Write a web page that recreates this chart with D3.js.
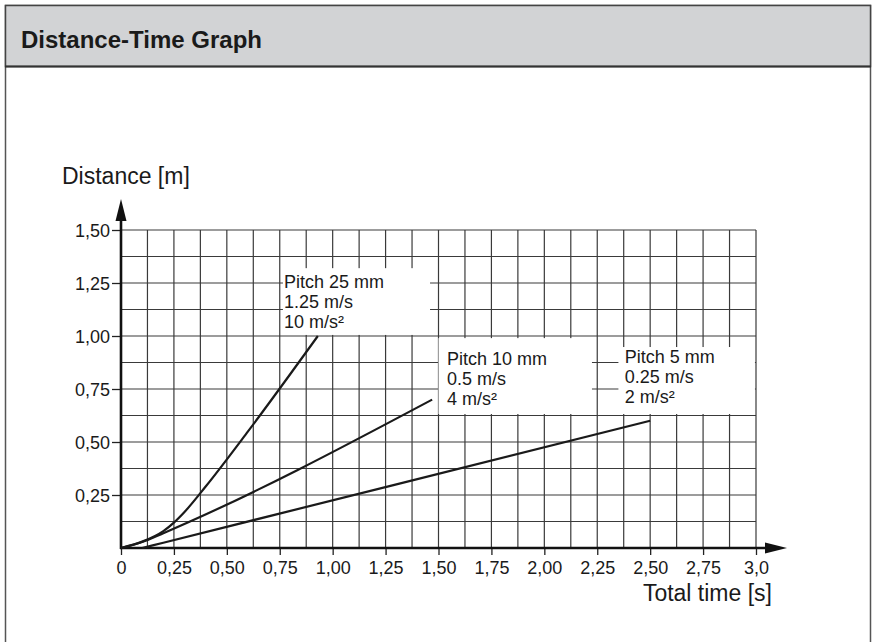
<!DOCTYPE html>
<html>
<head>
<meta charset="utf-8">
<script src="https://cdn.jsdelivr.net/npm/d3@7"></script>
<style>
  body { margin: 0; background: #fff; }
  svg text { font-family: "Liberation Sans", Arial, sans-serif; fill: #1a1a1a; }
</style>
</head>
<body>
<svg width="874" height="642"></svg>
<script>
var width = 874;
var height = 642;

// axis ticks
var timeTicks = [0, 0.25, 0.5, 0.75, 1.0, 1.25, 1.5, 1.75, 2.0, 2.25, 2.5, 2.75, 3.0];
var timeLabels = ["0", "0,25", "0,50", "0,75", "1,00", "1,25", "1,50", "1,75", "2,00", "2,25", "2,50", "2,75", "3,0"];
var distTicks = [0.25, 0.5, 0.75, 1.0, 1.25, 1.5];
var distLabels = ["0,25", "0,50", "0,75", "1,00", "1,25", "1,50"];

// series, [time s, distance m]
var pitch25 = [[0, 0], [0.1, 0.03], [0.2, 0.08], [0.25, 0.12], [0.3, 0.17], [0.4, 0.29], [0.6, 0.55], [0.93, 1.0]];
var pitch10 = [[0, 0], [0.1, 0.028], [0.2, 0.07], [1.47, 0.70]];
var pitch5 = [[0.1, 0], [0.2, 0.025], [2.5, 0.6]];

// labels
var label25 = ["Pitch 25 mm", "1.25 m/s", "10 m/s²"];
var label10 = ["Pitch 10 mm", "0.5 m/s", "4 m/s²"];
var label5 = ["Pitch 5 mm", "0.25 m/s", "2 m/s²"];

var svg = d3.select('svg');

// panel + header
svg.append("rect")
    .attr("x", 5.5).attr("y", 5.5)
    .attr("width", 865).attr("height", 700)
    .attr("fill", "#fff")
    .attr("stroke", "#555")
    .attr("stroke-width", 1.5);
svg.append("rect")
    .attr("x", 5.5).attr("y", 5.5)
    .attr("width", 865).attr("height", 61)
    .attr("fill", "#d2d3d5")
    .attr("stroke", "#444")
    .attr("stroke-width", 1.5);
svg.append("line")
    .attr("x1", 5).attr("x2", 871)
    .attr("y1", 66.5).attr("y2", 66.5)
    .attr("stroke", "#333")
    .attr("stroke-width", 2);
svg.append("text")
    .attr("x", 21)
    .attr("y", 48)
    .attr("font-size", "24px")
    .attr("font-weight", "bold")
    .text("Distance-Time Graph");

var x = d3.scaleLinear().domain([0, 3]).range([121, 756]);
var y = d3.scaleLinear().domain([0, 1.5]).range([548, 230]);

// grid every 0.125
var gridG = svg.append("g");
gridG.selectAll(".vg")
    .data(d3.range(0.125, 3.001, 0.125))
    .enter().append("line")
    .attr("x1", function (d) { return x(d); })
    .attr("x2", function (d) { return x(d); })
    .attr("y1", y(0)).attr("y2", y(1.5))
    .attr("stroke", "#3a3a3a")
    .attr("stroke-width", 1.2);
gridG.selectAll(".hg")
    .data(d3.range(0.125, 1.501, 0.125))
    .enter().append("line")
    .attr("x1", x(0)).attr("x2", x(3))
    .attr("y1", function (d) { return y(d); })
    .attr("y2", function (d) { return y(d); })
    .attr("stroke", "#3a3a3a")
    .attr("stroke-width", 1.2);

// white boxes behind the labels (data coords)
var boxes = [
    { x0: 0.765, x1: 1.46, y0: 1.005, y1: 1.32 },
    { x0: 1.5, x1: 2.225, y0: 0.632, y1: 0.99 },
    { x0: 2.35, x1: 2.995, y0: 0.632, y1: 0.948 }
];
svg.selectAll(".box")
    .data(boxes)
    .enter().append("rect")
    .attr("x", function (d) { return x(d.x0); })
    .attr("y", function (d) { return y(d.y1); })
    .attr("width", function (d) { return x(d.x1) - x(d.x0); })
    .attr("height", function (d) { return y(d.y0) - y(d.y1); })
    .attr("fill", "#fff");

// axes
var xAxis = d3.axisBottom(x).tickValues(timeTicks)
    .tickFormat(function (d, i) { return timeLabels[i]; })
    .tickSize(7).tickPadding(6);
var yAxis = d3.axisLeft(y).tickValues(distTicks)
    .tickFormat(function (d, i) { return distLabels[i]; })
    .tickSize(9).tickPadding(2);

var xg = svg.append("g").attr("transform", "translate(0," + y(0) + ")").call(xAxis);
var yg = svg.append("g").attr("transform", "translate(" + x(0) + ",0)").call(yAxis);
[xg, yg].forEach(function (g) {
    g.select(".domain").remove();
    g.selectAll(".tick line").attr("stroke", "#222").attr("stroke-width", 1.3);
    g.selectAll(".tick text")
        .attr("font-size", "18px")
        .attr("font-family", "'Liberation Sans', Arial, sans-serif")
        .attr("fill", "#1a1a1a");
});
yg.selectAll(".tick text").attr("dy", "0.36em");

// axis lines with arrows
svg.append("line")
    .attr("x1", x(0)).attr("x2", x(0))
    .attr("y1", y(0) + 1).attr("y2", 214)
    .attr("stroke", "#111").attr("stroke-width", 2.6);
svg.append("path")
    .attr("d", "M" + x(0) + ",199 L" + (x(0) - 5.5) + ",221 L" + (x(0) + 5.5) + ",221 Z")
    .attr("fill", "#111");
svg.append("line")
    .attr("x1", x(0) - 1).attr("x2", 772)
    .attr("y1", y(0)).attr("y2", y(0))
    .attr("stroke", "#111").attr("stroke-width", 2.6);
svg.append("path")
    .attr("d", "M787," + y(0) + " L765," + (y(0) - 5.5) + " L765," + (y(0) + 5.5) + " Z")
    .attr("fill", "#111");

// axis titles
svg.append("text")
    .attr("x", 62).attr("y", 184)
    .attr("font-size", "23px")
    .text("Distance [m]");
svg.append("text")
    .attr("x", 772).attr("y", 601)
    .attr("text-anchor", "end")
    .attr("font-size", "23px")
    .text("Total time [s]");

// series
var line = d3.line()
    .x(function (d) { return x(d[0]); })
    .y(function (d) { return y(d[1]); })
    .curve(d3.curveMonotoneX);
[pitch25, pitch10, pitch5].forEach(function (s) {
    svg.append("path")
        .datum(s)
        .attr("d", line)
        .attr("fill", "none")
        .attr("stroke", "#1a1a1a")
        .attr("stroke-width", 2.2);
});

// labels
var labels = [
    { lines: label25, t: 0.77, d: 1.226 },
    { lines: label10, t: 1.54, d: 0.863 },
    { lines: label5, t: 2.38, d: 0.873 }
];
labels.forEach(function (l) {
    var t = svg.append("text")
        .attr("x", x(l.t))
        .attr("y", y(l.d))
        .attr("font-size", "18px");
    l.lines.forEach(function (s, i) {
        t.append("tspan")
            .attr("x", x(l.t))
            .attr("dy", i === 0 ? 0 : 20)
            .text(s);
    });
});
</script>
</body>
</html>
